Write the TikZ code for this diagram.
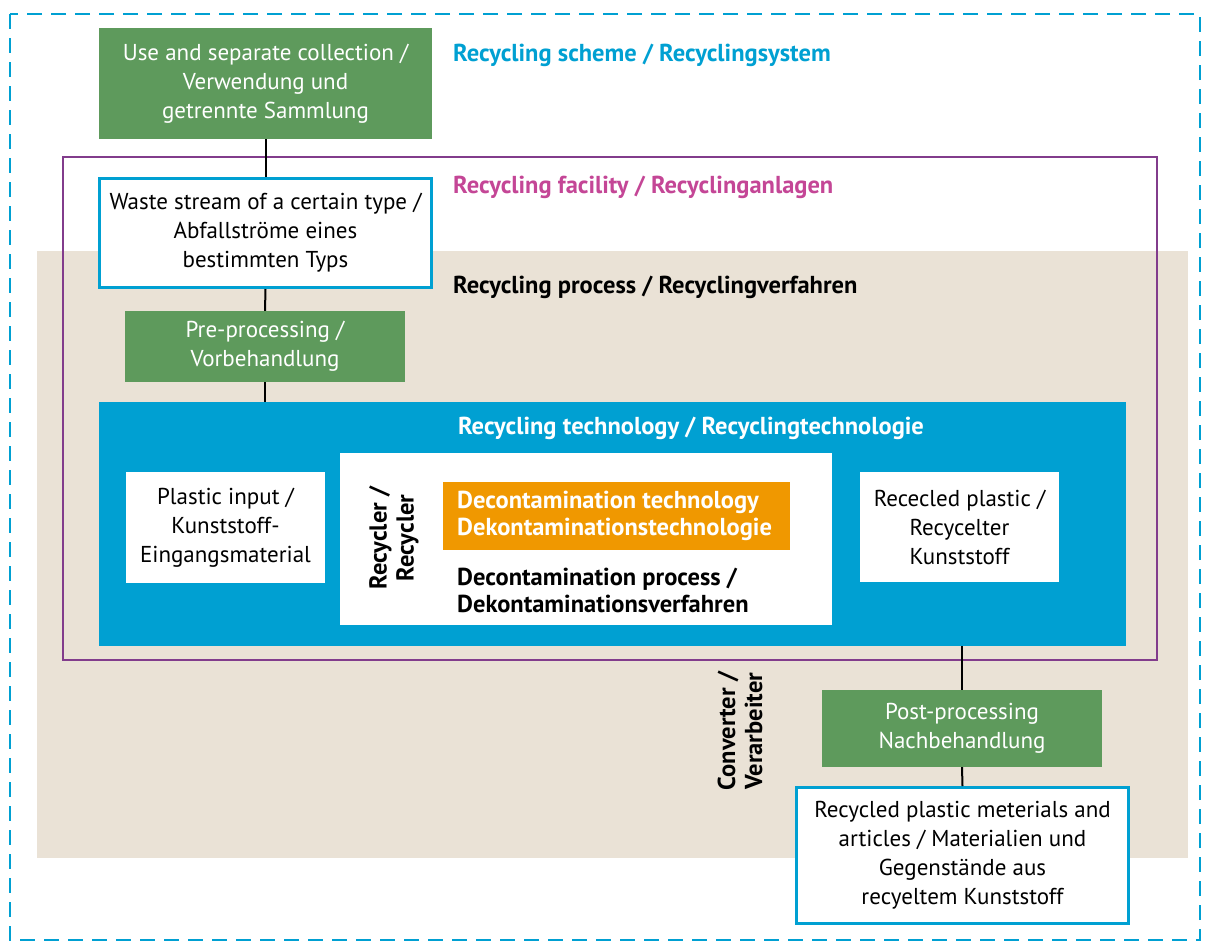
\documentclass[tikz,border=0pt]{standalone}
\usepackage{fontspec}
\setmainfont{PT Sans}
\definecolor{cyanB}{RGB}{0,160,210}
\definecolor{greenB}{RGB}{94,154,92}
\definecolor{beigeB}{RGB}{234,226,214}
\definecolor{purpleB}{RGB}{130,60,140}
\definecolor{magB}{RGB}{196,70,150}
\definecolor{orangeB}{RGB}{240,152,0}
\tikzset{
  txt/.style={font=\fontsize{23}{29}\selectfont, align=center, inner sep=0pt},
  greenbox/.style={txt, fill=greenB, text=white, draw=none},
  whitebox/.style={txt, fill=white, text=black, draw=none},
  cyanbox/.style={txt, fill=white, text=black, draw=cyanB, line width=3pt},
  lbl/.style={font=\fontsize{24.5}{27}\selectfont\bfseries, anchor=west, inner sep=0pt},
  conn/.style={draw=black, line width=2pt},
}
\begin{document}
\begin{tikzpicture}[x=1pt,y=-1pt]
\useasboundingbox (0,0) rectangle (1210,943);
% outer dashed frame
\draw[cyanB, line width=2.5pt, dash pattern=on 15pt off 9pt] (10,14) rectangle (1200,940);
% beige area
\fill[beigeB] (37,251) rectangle (1188,858);
% purple facility frame
\draw[purpleB, line width=2.2pt] (63,157) rectangle (1157,660);

\node[greenbox, minimum width=333pt, minimum height=111pt] (use) at (265.5,83.5)
  {Use and separate collection /\\Verwendung und\\getrennte Sammlung};
\node[cyanbox, minimum width=332pt, minimum height=109pt] (waste) at (265.5,233)
  {Waste stream of a certain type /\\Abfallströme eines\\bestimmten Typs};
\node[greenbox, minimum width=280pt, minimum height=71pt] (pre) at (265,346.5)
  {Pre-processing /\\Vorbehandlung};
\node[fill=cyanB, minimum width=1027pt, minimum height=244pt, inner sep=0pt] (tech) at (612.5,524) {};
\node[lbl, text=white, anchor=center] (techlbl) at (691,428) {Recycling technology / Recyclingtechnologie};
\node[whitebox, minimum width=199pt, minimum height=111pt] (input) at (225.5,527.5)
  {Plastic input /\\Kunststoff-\\Eingangsmaterial};
\node[whitebox, minimum width=492pt, minimum height=172pt] (recycler) at (586,539) {};
\node[fill=orangeB, minimum width=347pt, minimum height=68pt, inner sep=0pt] (orange) at (616.5,516) {};
\node[lbl, text=white, align=left] (decotech) at (457,516)
  {Decontamination technology\\Dekontaminationstechnologie};
\node[lbl, align=left] (decoproc) at (457,590)
  {Decontamination process /\\Dekontaminationsverfahren};
\node[lbl, anchor=center, rotate=90, align=center] (rectext) at (394,538)
  {Recycler /\\Recycler};
\node[whitebox, minimum width=199pt, minimum height=110pt] (output) at (959.5,527)
  {Rececled plastic /\\Recycelter\\Kunststoff};
\node[greenbox, minimum width=280pt, minimum height=77pt] (post) at (962,728.5)
  {Post-processing\\Nachbehandlung};
\node[cyanbox, minimum width=332pt, minimum height=136pt] (final) at (962.5,855.5)
  {Recycled plastic meterials and\\articles / Materialien und\\Gegenstände aus\\recyeltem Kunststoff};
\node[lbl, anchor=center, rotate=90, align=center] (conv) at (740,731)
  {Converter /\\Verarbeiter};

\node[lbl, text=cyanB] (scheme) at (453,55) {Recycling scheme / Recyclingsystem};
\node[lbl, text=magB] (facility) at (453,187) {Recycling facility / Recyclinganlagen};
\node[lbl, text=black] (process) at (453,287) {Recycling process / Recyclingverfahren};

\draw[conn] (use.south) -- (waste.north);
\draw[conn] (waste.south) -- (pre.north);
\draw[conn] (pre.south) -- (pre.south |- tech.north);
\draw[conn] (post.north |- tech.south) -- (post.north);
\draw[conn] (post.south) -- (final.north);
\end{tikzpicture}
\end{document}
